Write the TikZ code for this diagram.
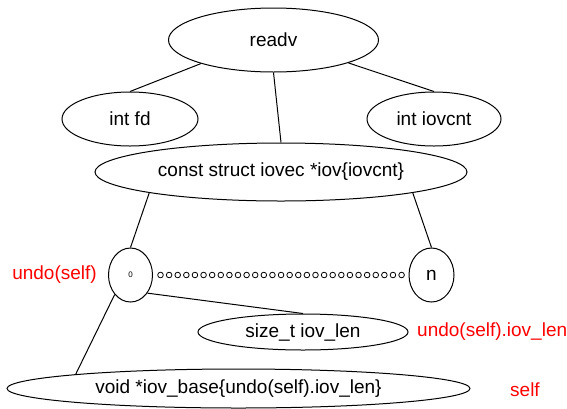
\documentclass[tikz,border=0pt]{standalone}
\usepackage{fontspec}
\setmainfont{Liberation Sans}
\usetikzlibrary{shapes.geometric}
\begin{document}
\begin{tikzpicture}[x=1pt,y=-1pt,
  every node/.style={font=\fontsize{19}{22}\selectfont},
  ell/.style={ellipse,draw,line width=1pt,inner sep=0pt},
  lbl/.style={text=red},
  conn/.style={line width=1pt},
  dot/.style={circle,draw,line width=0.8pt,inner sep=0pt,minimum size=5.6pt}]
\useasboundingbox (0,0) rectangle (567,408);
\node[ell,minimum width=210pt,minimum height=64pt] (readv) at (273.5,40) {readv};
\node[ell,minimum width=136pt,minimum height=54pt] (fd) at (130,119) {int fd};
\node[ell,minimum width=134pt,minimum height=54pt] (iovcnt) at (434,119) {int iovcnt};
\node[ell,minimum width=372pt,minimum height=58pt] (iov) at (281,172) {const struct iovec *iov\{iovcnt\}};
\node[ell,minimum width=44pt,minimum height=54pt,font=\fontsize{8}{10}\selectfont] (zero) at (130.5,275) {0};
\node[ell,minimum width=45pt,minimum height=54pt] (n) at (431.5,275) {n};
\node[ell,minimum width=210pt,minimum height=36pt] (len) at (303,332) {size\_t iov\_len};
\node[ell,minimum width=463pt,minimum height=39pt] (base) at (238.5,388.5) {void *iov\_base\{undo(self).iov\_len\}};
\node[lbl] (l1) at (54.5,275) {undo(self)};
\node[lbl,anchor=west,inner sep=0pt] (l2) at (417,332) {undo(self).iov\_len};
\node[lbl,anchor=west,inner sep=0pt] (l3) at (510,390) {self};
\foreach \i in {0,...,28} {
  \node[dot] (d\i) at ({160.5+\i*8.61},275) {};
}
\draw[conn] (readv.198) -- (fd.north);
\draw[conn] (readv.343) -- (iovcnt.north);
\draw[conn] (readv.south) -- (iov.north);
\draw[conn] (iov.189) -- (zero.north);
\draw[conn] (iov.351) -- (n.north);
\draw[conn] (zero.-47) -- (len.north);
\draw[conn] (zero.231) -- (base.175);
\end{tikzpicture}
\end{document}
